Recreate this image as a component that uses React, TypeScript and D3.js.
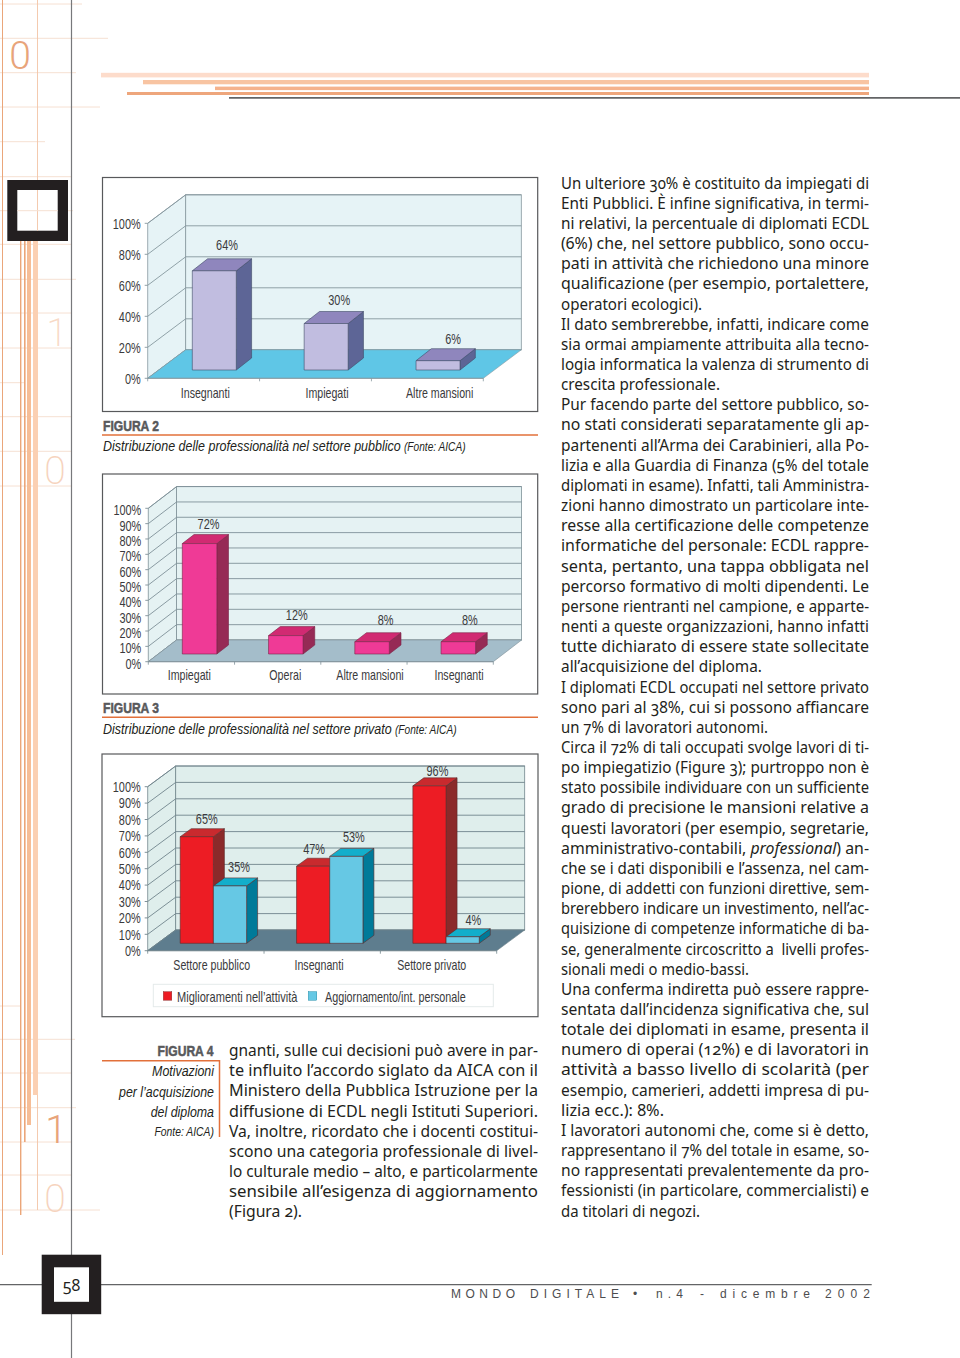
import React from "react";
import * as d3 from "d3";

const SANS = "'Liberation Sans',Arial,sans-serif";
const BODY = "'Noto Sans',sans-serif";
const NARROW_X = 0.78;

// ---------- chart data ----------
const fig2Categories = ["Insegnanti", "Impiegati", "Altre mansioni"];
const fig2Values = [64, 30, 6];
const fig2Ticks = [0, 20, 40, 60, 80, 100];

const fig3Categories = ["Impiegati", "Operai", "Altre mansioni", "Insegnanti"];
const fig3Values = [72, 12, 8, 8];
const tenTicks = [0, 10, 20, 30, 40, 50, 60, 70, 80, 90, 100];

const fig4Categories = ["Settore pubblico", "Insegnanti", "Settore privato"];
const fig4Series = ["Miglioramenti nell’attività", "Aggiornamento/int. personale"];
const fig4Miglioramenti = [65, 47, 96];
const fig4Aggiornamento = [35, 53, 4];

// ---------- page text ----------
const rightColumn = [
  "Un ulteriore 30% è costituito da impiegati di",
  "Enti Pubblici. È infine significativa, in termi-",
  "ni relativi, la percentuale di diplomati ECDL",
  "(6%) che, nel settore pubblico, sono occu-",
  "pati in attività che richiedono una minore",
  "qualificazione (per esempio, portalettere,",
  "operatori ecologici).",
  "Il dato sembrerebbe, infatti, indicare come",
  "sia ormai ampiamente attribuita alla tecno-",
  "logia informatica la valenza di strumento di",
  "crescita professionale.",
  "Pur facendo parte del settore pubblico, so-",
  "no stati considerati separatamente gli ap-",
  "partenenti all’Arma dei Carabinieri, alla Po-",
  "lizia e alla Guardia di Finanza (5% del totale",
  "diplomati in esame). Infatti, tali Amministra-",
  "zioni hanno dimostrato un particolare inte-",
  "resse alla certificazione delle competenze",
  "informatiche del personale: ECDL rappre-",
  "senta, pertanto, una tappa obbligata nel",
  "percorso formativo di molti dipendenti. Le",
  "persone rientranti nel campione, e apparte-",
  "nenti a queste organizzazioni, hanno infatti",
  "tutte dichiarato di essere state sollecitate",
  "all’acquisizione del diploma.",
  "I diplomati ECDL occupati nel settore privato",
  "sono pari al 38%, cui si possono affiancare",
  "un 7% di lavoratori autonomi.",
  "Circa il 72% di tali occupati svolge lavori di ti-",
  "po impiegatizio (Figure 3); purtroppo non è",
  "stato possibile individuare con un sufficiente",
  "grado di precisione le mansioni relative a",
  "questi lavoratori (per esempio, segretarie,",
  "amministrativo-contabili, |professional|) an-",
  "che se i dati disponibili e l’assenza, nel cam-",
  "pione, di addetti con funzioni direttive, sem-",
  "brerebbero indicare un investimento, nell’ac-",
  "quisizione di competenze informatiche di ba-",
  "se, generalmente circoscritto a  livelli profes-",
  "sionali medi o medio-bassi.",
  "Una conferma indiretta può essere rappre-",
  "sentata dall’incidenza significativa che, sul",
  "totale dei diplomati in esame, presenta il",
  "numero di operai (12%) e di lavoratori in",
  "attività a basso livello di scolarità (per",
  "esempio, camerieri, addetti impresa di pu-",
  "lizia ecc.): 8%.",
  "I lavoratori autonomi che, come si è detto,",
  "rappresentano il 7% del totale in esame, so-",
  "no rappresentati prevalentemente da pro-",
  "fessionisti (in particolare, commercialisti) e",
  "da titolari di negozi.",
];
const rightShortEnds: Record<number, number> = { 6: 702, 10: 720, 24: 762, 27: 768, 39: 749, 46: 664, 51: 700 };

const leftColumn = [
  "gnanti, sulle cui decisioni può avere in par-",
  "te influito l’accordo siglato da AICA con il",
  "Ministero della Pubblica Istruzione per la",
  "diffusione di ECDL negli Istituti Superiori.",
  "Va, inoltre, ricordato che i docenti costitui-",
  "scono una categoria professionale di livel-",
  "lo culturale medio – alto, e particolarmente",
  "sensibile all’esigenza di aggiornamento",
  "(Figura 2).",
];
const leftShortEnds: Record<number, number> = { 8: 302 };
const fig4Caption = ["Motivazioni", "per l’acquisizione", "del diploma", "Fonte: AICA)"];
const footerWords = ["MONDO", "DIGITALE", "•", "n.4", "-", "dicembre", "2002"];
const footerStarts = [451, 530, 633, 656, 700, 720, 825];
const footerEnds = [515, 619, 639, 683, 704, 810, 870];

// ---------- page ornaments ----------
const ruleYs = [4, 38.3, 72.7, 107, 141.7, 176.7, 210.7, 244.3, 279.3, 313, 348, 382.7, 416.7, 451.3, 486, 1006, 1039.3, 1073, 1107.7, 1142, 1175, 1210];
const ruleEnds = [82, 108, 76, 100, 45, 72, 73, 72, 76, 72, 72, 25, 72, 72, 72, 20, 75, 72, 76, 72, 72, 100];

const line = d3.line();
const poly = (pts: [number, number][]) => line(pts) + "Z";

function measure(text: string, font: string) {
  const ctx = document.createElement("canvas").getContext("2d")!;
  ctx.font = font;
  return ctx.measureText(text).width;
}

function NText({ x, y, children, size = 14, sx = NARROW_X, anchor, fill = "#3a3a3c", italic }: { x: number; y: number; children: React.ReactNode; size?: number; sx?: number; anchor?: "middle" | "end"; fill?: string; italic?: boolean }) {
  return (
    <text transform={`translate(${x},${y}) scale(${sx},1)`} dy="0.35em" textAnchor={anchor} fontFamily={SANS} fontSize={size} fontStyle={italic ? "italic" : undefined} fill={fill}>{children}</text>
  );
}

type Colors = { wall: string; floor: string; grid: string; edge: string };
type Face = { front: string; side: string; top: string };
type ChartCfg = {
  box: [number, number, number, number];
  fx: number; fy0: number; fy100: number; frontRight: number; dx: number; dy: number;
  ticks: number[]; cats: string[]; series: { values: number[]; face: Face }[];
  baseY: number; barW: number; inset: number; barDx: number; barDy: number; tickDy: number;
  labelNudge: [number, number][]; catX: number[]; catY: number; colors: Colors;
};

function Chart({ c }: { c: ChartCfg }) {
  const y = d3.scaleLinear().domain([0, 100]).range([c.fy0, c.fy100]);
  const h = d3.scaleLinear().domain([0, 100]).range([0, c.fy0 - c.fy100]);
  const x = d3.scaleBand<string>().domain(c.cats).range([c.fx, c.frontRight]);
  const seriesX = d3.scaleBand<number>().domain(c.series.map((_, i) => i)).range([0, c.barW * c.series.length]);
  const [bx0, by0, bx1, by1] = c.box;
  const bars = c.cats.flatMap((cat, ci) =>
    c.series.map((s, si) => ({ cat, ci, si, v: s.values[ci], face: s.face })),
  );
  const { wall, floor, grid, edge } = c.colors;
  return (
    <g>
      <rect x={bx0} y={by0} width={bx1 - bx0} height={by1 - by0} fill="#fff" stroke="#58595b" strokeWidth={1.2} />
      <path d={poly([[c.fx, c.fy0], [c.fx, c.fy100], [c.fx + c.dx, c.fy100 - c.dy], [c.fx + c.dx, c.fy0 - c.dy]])} fill={wall} stroke={grid} strokeWidth={0.8} />
      <rect x={c.fx + c.dx} y={c.fy100 - c.dy} width={c.frontRight - c.fx} height={c.fy0 - c.fy100} fill={wall} stroke={grid} strokeWidth={0.8} />
      {c.ticks.map((t) => (
        <g key={t}>
          <path d={line([[c.fx - 3, y(t)], [c.fx, y(t)], [c.fx + c.dx, y(t) - c.dy], [c.frontRight + c.dx, y(t) - c.dy]])!} fill="none" stroke={grid} strokeWidth={0.9} />
          <NText x={c.fx - 7} y={y(t) + c.tickDy} anchor="end">{t}%</NText>
        </g>
      ))}
      <path d={poly([[c.fx, c.fy0], [c.fx + c.dx, c.fy0 - c.dy], [c.frontRight + c.dx, c.fy0 - c.dy], [c.frontRight, c.fy0]])} fill={floor} stroke={grid} strokeWidth={0.6} />
      <line x1={c.fx} y1={c.fy0} x2={c.frontRight} y2={c.fy0} stroke={grid} strokeWidth={0.9} />
      {[...c.cats.map((k) => x(k)!), c.frontRight].map((tx, i) => (
        <line key={i} x1={tx} x2={tx} y1={c.fy0} y2={c.fy0 + 3} stroke={grid} strokeWidth={0.8} />
      ))}
      {bars.map((b) => {
        const x0 = x(b.cat)! + c.inset + seriesX(b.si)!;
        const x1 = x0 + c.barW;
        const top = c.baseY - h(b.v);
        return (
          <g key={`${b.ci}-${b.si}`} stroke={edge} strokeWidth={0.6} strokeLinejoin="round">
            <path d={poly([[x1, top], [x1 + c.barDx, top - c.barDy], [x1 + c.barDx, c.baseY - c.barDy], [x1, c.baseY]])} fill={b.face.side} />
            <path d={poly([[x0, top], [x0 + c.barDx, top - c.barDy], [x1 + c.barDx, top - c.barDy], [x1, top]])} fill={b.face.top} />
            <rect x={x0} y={top} width={c.barW} height={c.baseY - top} fill={b.face.front} />
          </g>
        );
      })}
      {bars.map((b, i) => {
        const x0 = x(b.cat)! + c.inset + seriesX(b.si)!;
        const [nx, ny] = c.labelNudge[i];
        return <NText key={i} x={x0 + c.barW / 2 + nx} y={c.baseY - h(b.v) + ny} anchor="middle">{b.v}%</NText>;
      })}
      {c.cats.map((k, i) => (
        <NText key={k} x={c.catX[i]} y={c.catY} anchor="middle" sx={0.76}>{k}</NText>
      ))}
    </g>
  );
}

const fig2: ChartCfg = {
  box: [102.5, 177.5, 537.7, 411.5], fx: 147.7, fy0: 378.3, fy100: 223.3, frontRight: 483.3, dx: 38, dy: 28.5,
  ticks: fig2Ticks, cats: fig2Categories,
  series: [{ values: fig2Values, face: { front: "#c1bde0", side: "#5d6596", top: "#8f86bd" } }],
  baseY: 370, barW: 44, inset: 44.6, barDx: 15.3, barDy: 12, tickDy: 1,
  labelNudge: [[12.7, -26], [13, -23.7], [15, -21.7]], catX: [205.3, 327, 439.7], catY: 393,
  colors: { wall: "#e6f3f6", floor: "#5fc6e6", grid: "#86979e", edge: "#3f4a66" },
};
const fig3: ChartCfg = {
  box: [102.5, 474, 537.7, 694], fx: 148.3, fy0: 661.7, fy100: 508.3, frontRight: 493.3, dx: 28.3, dy: 21.7,
  ticks: tenTicks, cats: fig3Categories,
  series: [{ values: fig3Values, face: { front: "#ef3a96", side: "#962a55", top: "#d12a72" } }],
  baseY: 654, barW: 34.5, inset: 34, barDx: 11.7, barDy: 9, tickDy: 2,
  labelNudge: [[9, -19], [11, -20.7], [13.5, -22], [11.5, -22]], catX: [189.3, 285.3, 370, 459], catY: 675,
  colors: { wall: "#e5f2f3", floor: "#a4bdca", grid: "#7f9198", edge: "#7a2347" },
};
const fig4: ChartCfg = {
  box: [102, 754, 538, 1016.7], fx: 147.7, fy0: 950.7, fy100: 786.7, frontRight: 496.7, dx: 28, dy: 20.7,
  ticks: tenTicks, cats: fig4Categories,
  series: [
    { values: fig4Miglioramenti, face: { front: "#ed1c24", side: "#8b2a2a", top: "#c92a2e" } },
    { values: fig4Aggiornamento, face: { front: "#66c8e4", side: "#007a99", top: "#12aecb" } },
  ],
  baseY: 943.3, barW: 33.2, inset: 32.5, barDx: 11, barDy: 8, tickDy: 0.3,
  labelNudge: [[10, -18], [9, -19], [1, -17], [7.5, -19], [8, -15], [10.7, -17]], catX: [211.7, 319, 431.7], catY: 965,
  colors: { wall: "#dfeeec", floor: "#5e7d8e", grid: "#71858c", edge: "#5a2a2a" },
};

function Para({ lines, x0, width, y0, step, ends }: { lines: string[]; x0: number; width: number; y0: number; step: number; ends: Record<number, number> }) {
  return (
    <g fontFamily={BODY} fontSize={15.5} fill="#231f20" style={{ fontVariantNumeric: "oldstyle-nums" }}>
      {lines.map((l, i) => {
        const parts = l.split("|");
        return (
          <text key={i} x={x0} y={y0 + i * step} dy="0.36em" textLength={ends[i] ? ends[i] - x0 : width} lengthAdjust="spacingAndGlyphs" xmlSpace="preserve">
            {parts.map((p, j) => (
              <tspan key={j} fontStyle={j % 2 ? "italic" : "normal"}>{p}</tspan>
            ))}
          </text>
        );
      })}
    </g>
  );
}

function Heading({ x, y, label }: { x: number; y: number; label: string }) {
  return (
    <text x={x} y={y} dy="0.35em" fontFamily={SANS} fontWeight={700} fontSize={15} fill="#58595b" stroke="#58595b" strokeWidth={0.5} textLength={56} lengthAdjust="spacingAndGlyphs">{label}</text>
  );
}

function Caption({ y, main, src, mainEnd, srcStart, srcEnd }: { y: number; main: string; src: string; mainEnd: number; srcStart: number; srcEnd: number }) {
  const mainX = (mainEnd - 103) / measure(main, `italic 15.5px ${SANS}`);
  const srcX = (srcEnd - srcStart) / measure(src, `italic 13px ${SANS}`);
  return (
    <g>
      <NText x={103} y={y} size={15.5} sx={mainX} italic fill="#231f20">{main}</NText>
      <NText x={srcStart} y={y + 0.5} size={13} sx={srcX} italic fill="#231f20">{src}</NText>
    </g>
  );
}

export default function App() {
  const thin = "Roboto,'Liberation Sans',sans-serif";
  const digits: [string, number, number, string, number][] = [
    ["0", 20, 55, "#e8a47a", 300], ["1", 57, 332, "#f8d9c6", 200], ["0", 55, 470, "#f6d3bd", 200], ["1", 56, 1129, "#e8a47a", 300], ["0", 55, 1198, "#f6d3bd", 200],
  ];
  return (
    <svg width={960} height={1358} viewBox="0 0 960 1358" style={{ position: "absolute", left: 0, top: 0, display: "block", background: "#fff" }}>
      {/* ornaments */}
      {ruleYs.map((ry, i) => (
        <line key={ry} x1={0} x2={ruleEnds[i]} y1={ry} y2={ry} stroke="#f6e0d2" strokeWidth={1} />
      ))}
      <line x1={2.5} x2={2.5} y1={0} y2={1255} stroke="#eaa67a" strokeWidth={1} />
      <line x1={37.5} x2={37.5} y1={0} y2={240} stroke="#f3c4a6" strokeWidth={0.9} />
      <line x1={37.5} x2={37.5} y1={1095} y2={1210} stroke="#f3c4a6" strokeWidth={0.9} />
      <rect x={20} y={240} width={1.4} height={975} fill="#eba679" />
      <rect x={24} y={240} width={1.6} height={902} fill="#eba679" />
      <rect x={27} y={240} width={4} height={885} fill="#f6bd96" />
      <rect x={33} y={240} width={5} height={855} fill="#fbd0b3" />
      <line x1={71.5} x2={71.5} y1={0} y2={1358} stroke="#77787b" strokeWidth={1.2} />
      {digits.map(([d, x, y, col, w], i) => (
        <text key={i} x={x} y={y} dy="0.36em" textAnchor="middle" fontFamily={thin} fontWeight={w} fontSize={39} fill={col}>{d}</text>
      ))}
      <rect x={7.3} y={180} width={60.7} height={61} fill="#231f20" />
      <rect x={17.3} y={190} width={40.4} height={40.7} fill="#fff" />
      <line x1={37.5} x2={37.5} y1={190} y2={230.7} stroke="#f3c4a6" strokeWidth={0.9} />
      <line x1={17.3} x2={57.7} y1={210.7} y2={210.7} stroke="#f6e0d2" strokeWidth={1} />

      {/* top rules */}
      <rect x={101} y={72.8} width={768} height={4.6} fill="#fddccb" />
      <rect x={143} y={80} width={726} height={4.3} fill="#f8c4a2" />
      <rect x={215} y={86.6} width={654} height={3.5} fill="#f5b28c" />
      <rect x={127} y={92} width={742} height={3} fill="#eea67c" />
      <line x1={229} x2={960} y1={97.8} y2={97.8} stroke="#636466" strokeWidth={1.7} />

      {/* charts */}
      <Chart c={fig2} />
      <Heading x={103} y={425.5} label="FIGURA 2" />
      <line x1={102} x2={538} y1={435} y2={435} stroke="#e2703a" strokeWidth={1.6} />
      <Caption y={446} main="Distribuzione delle professionalità nel settore pubblico" src="(Fonte: AICA)" mainEnd={401} srcStart={404} srcEnd={466} />

      <Chart c={fig3} />
      <Heading x={103} y={707.5} label="FIGURA 3" />
      <line x1={102} x2={538} y1={717.3} y2={717.3} stroke="#e2703a" strokeWidth={1.6} />
      <Caption y={728.5} main="Distribuzione delle professionalità nel settore privato" src="(Fonte: AICA)" mainEnd={392} srcStart={395} srcEnd={457} />

      <Chart c={fig4} />
      <rect x={153.3} y={984.3} width={340} height={22.4} fill="#fff" stroke="#e4eaea" strokeWidth={1} />
      <rect x={163.3} y={991.7} width={8.5} height={8.5} fill={fig4.series[0].face.front} stroke="#7a2020" strokeWidth={0.4} />
      <NText x={177} y={997} sx={0.79}>{fig4Series[0]}</NText>
      <rect x={308.3} y={991.7} width={8.5} height={8.5} fill={fig4.series[1].face.front} stroke="#007a99" strokeWidth={0.4} />
      <NText x={325} y={997} sx={0.77}>{fig4Series[1]}</NText>

      {/* figure 4 caption */}
      <Heading x={157.5} y={1051} label="FIGURA 4" />
      <path d="M102 1060.7H219.5V1137" fill="none" stroke="#e2703a" strokeWidth={1.5} />
      {fig4Caption.map((t, i) => (
        <NText key={t} x={214} y={1071 + i * 20.2} anchor="end" italic fill="#231f20" size={i === 3 ? 13.5 : 15.5} sx={i === 3 ? 0.77 : 0.8}>{t}</NText>
      ))}

      {/* body text */}
      <Para lines={leftColumn} x0={229} width={309} y0={1050.5} step={20.15} ends={leftShortEnds} />
      <Para lines={rightColumn} x0={561} width={308} y0={183} step={20.157} ends={rightShortEnds} />

      {/* footer */}
      <line x1={0} x2={871.7} y1={1284.7} y2={1284.7} stroke="#636466" strokeWidth={1.3} />
      <rect x={41.7} y={1254.7} width={59.5} height={59.5} fill="#231f20" />
      <rect x={54} y={1267.3} width={35} height={34.5} fill="#fff" />
      <text x={71.5} y={1285} dy="0.36em" textAnchor="middle" fontFamily={BODY} fontSize={16} fill="#231f20" style={{ fontVariantNumeric: "oldstyle-nums" }}>58</text>
      {footerWords.map((w, i) => (
        <text key={w} x={footerStarts[i]} y={1294} dy="0.35em" fontFamily={SANS} fontSize={12} fill="#4d4d4f" textLength={footerEnds[i] - footerStarts[i]}>{w}</text>
      ))}
    </svg>
  );
}
